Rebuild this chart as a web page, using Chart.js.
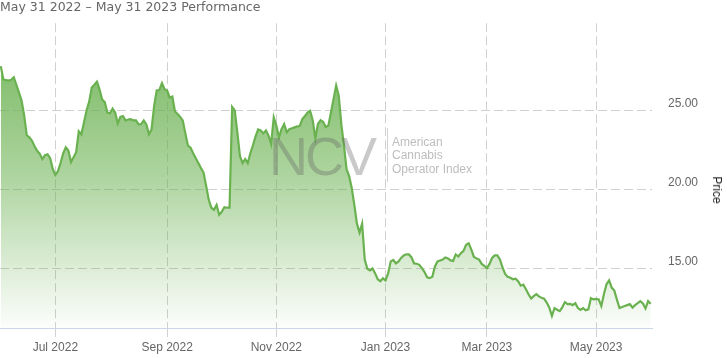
<!DOCTYPE html>
<html>
<head>
<meta charset="utf-8">
<script src="https://cdn.jsdelivr.net/npm/chart.js@4"></script>
<style>
  body { margin: 0; background: #fff; }
  #wrap { position: relative; width: 727px; height: 358px; overflow: hidden; }
  #title { position: absolute; left: 0; top: -1px; font: 12.5px "DejaVu Sans", sans-serif; color: #666; white-space: nowrap; }
  #mark { position: absolute; left: 269px; top: 129px; font: 54px "Liberation Sans", Arial, sans-serif; line-height: 54px; letter-spacing: -3px; color: rgba(100,100,100,0.35); pointer-events: none; }
  #sep { position: absolute; left: 387px; top: 128px; width: 1px; height: 54px; background: #d2d2d2; }
  #markText { position: absolute; left: 392px; top: 136px; font: 12px "Liberation Sans", Arial, sans-serif; line-height: 13.3px; color: #bdbdbd; }
  #ytitle { position: absolute; left: 717px; top: 190px; transform: translate(-50%, -50%) rotate(90deg); font: 12px "Liberation Sans", Arial, sans-serif; color: #222; white-space: nowrap; }
</style>
</head>
<body>
<div id="wrap">
  <canvas id="chart" width="727" height="358"></canvas>
  <div id="title">May 31 2022 – May 31 2023 Performance</div>
  <div id="mark">NCV</div>
  <div id="sep"></div>
  <div id="markText">American<br>Cannabis<br>Operator Index</div>
  <div id="ytitle">Price</div>
</div>
<script>
// daily closes, one per trading day Jun 1 2022 .. May 31 2023
const prices = [
  27.83, 26.99, 26.94, 26.91, 26.97, 27.13, 26.65, 26.15, 25.65, 24.70,
  23.45, 23.32, 23.10, 22.75, 22.47, 22.28, 21.94, 22.19, 22.25, 22.00,
  21.31, 20.93, 21.18, 21.69, 22.31, 22.69, 22.48, 21.75, 22.06, 22.38,
  23.70, 23.51, 24.26, 25.02, 25.58, 26.47, 26.65, 26.84, 26.34, 25.71,
  25.55, 24.89, 24.83, 25.14, 24.89, 24.20, 24.62, 24.67, 24.39, 24.45,
  24.47, 24.39, 24.39, 24.14, 24.16, 24.39, 24.14, 23.51, 23.82, 25.33,
  26.30, 26.32, 26.75, 26.37, 26.28, 25.84, 25.90, 24.96, 24.80, 24.61,
  24.39, 23.57, 22.79, 22.66, 22.31, 22.00, 21.69, 21.37, 21.09, 20.24,
  19.36, 18.86, 18.73, 19.04, 18.42, 18.60, 18.89, 18.86, 18.86, 25.24,
  25.02, 23.64, 22.13, 21.69, 21.94, 21.69, 22.31, 22.82, 23.38, 23.82,
  23.76, 23.57, 23.76, 23.43, 22.90, 24.58, 24.06, 23.32, 23.84, 24.16,
  23.64, 23.84, 23.89, 23.95, 24.01, 24.04, 24.48, 24.67, 24.89, 25.00,
  24.39, 23.25, 24.17, 24.40, 24.30, 23.97, 24.06, 24.89, 25.74, 26.60,
  25.95, 24.14, 22.82, 21.31, 20.87, 20.11, 19.04, 17.85, 17.28, 17.85,
  15.58, 14.99, 14.89, 15.01, 14.70, 14.33, 14.20, 14.39, 14.26, 14.70,
  15.46, 15.55, 15.33, 15.46, 15.68, 15.84, 15.91, 15.90, 15.71, 15.33,
  15.31, 15.24, 15.03, 14.78, 14.45, 14.40, 14.48, 15.14, 15.46, 15.52,
  15.58, 15.71, 15.65, 15.52, 15.49, 15.90, 15.77, 15.98, 16.13, 16.51,
  16.61, 16.21, 15.74, 15.65, 15.57, 15.30, 15.18, 15.03, 15.30, 15.68,
  15.84, 15.84, 15.58, 15.08, 14.67, 14.48, 14.42, 14.33, 14.36, 14.20,
  13.92, 13.99, 13.70, 13.38, 13.11, 13.26, 13.38, 13.24, 13.15, 13.10,
  12.85, 12.53, 12.00, 12.50, 12.40, 12.31, 12.55, 12.88, 12.75, 12.77,
  12.69, 12.81, 12.50, 12.38, 12.50, 12.36, 12.42, 13.13, 13.05, 13.08,
  13.05, 12.63, 13.38, 14.01, 14.25, 13.80, 13.61, 13.04, 12.50, 12.57,
  12.63, 12.69, 12.75, 12.53, 12.69, 12.81, 12.94, 12.79, 12.47, 12.94,
  12.77
];
// first trading day of each labelled month, as index into prices
const monthStart = [21, 64, 106, 148, 187, 229];
const monthLabels = ['Jul 2022', 'Sep 2022', 'Nov 2022', 'Jan 2023', 'Mar 2023', 'May 2023'];
const priceTicks = [15, 20, 25];

const green = '106, 177, 80';

function areaFill(ctx) {
  const area = ctx.chart.chartArea;
  if (!area) return 'rgba(' + green + ',0.5)';
  const g = ctx.chart.ctx.createLinearGradient(0, area.top, 0, area.bottom);
  g.addColorStop(0, 'rgba(' + green + ',0.95)');
  g.addColorStop(0.5, 'rgba(' + green + ',0.55)');
  g.addColorStop(1, 'rgba(' + green + ',0.02)');
  return g;
}

new Chart(document.getElementById('chart'), {
  type: 'line',
  data: {
    datasets: [{
      data: prices.map((p, i) => ({ x: i, y: p })),
      borderColor: 'rgb(' + green + ')',
      borderWidth: 2.2,
      backgroundColor: areaFill,
      fill: 'start',
      pointRadius: 0,
      tension: 0
    }]
  },
  options: {
    responsive: false,
    animation: false,
    layout: { padding: { top: 20, left: 0, right: 0, bottom: 0 } },
    plugins: { legend: { display: false }, tooltip: { enabled: false } },
    scales: {
      x: {
        type: 'linear',
        min: -0.3,
        max: 250.5,
        afterBuildTicks: s => { s.ticks = monthStart.map(v => ({ value: v })); },
        afterFit: s => { s.height = 30; },
        grid: {
          color: '#d0d0d0',
          tickLength: 9,
          tickColor: '#d0d0d0',
          tickBorderDash: [9, 4]
        },
        border: { color: '#ccd6eb', width: 1, dash: [9, 4] },
        ticks: {
          autoSkip: false,
          maxRotation: 0,
          padding: 3,
          color: '#666',
          font: { family: 'Liberation Sans', size: 12 },
          callback: v => monthLabels[monthStart.indexOf(v)]
        }
      },
      y: {
        position: 'right',
        min: 11.24,
        max: 30.55,
        afterBuildTicks: s => { s.ticks = priceTicks.map(v => ({ value: v })); },
        afterFit: s => { s.width = 75; },
        grid: { color: '#d0d0d0', drawTicks: false },
        border: { display: false, dash: [9, 4] },
        ticks: {
          padding: 16,
          labelOffset: -7,
          color: '#666',
          font: { family: 'Liberation Sans', size: 12 },
          callback: v => v.toFixed(2)
        }
      }
    }
  }
});
</script>
</body>
</html>
